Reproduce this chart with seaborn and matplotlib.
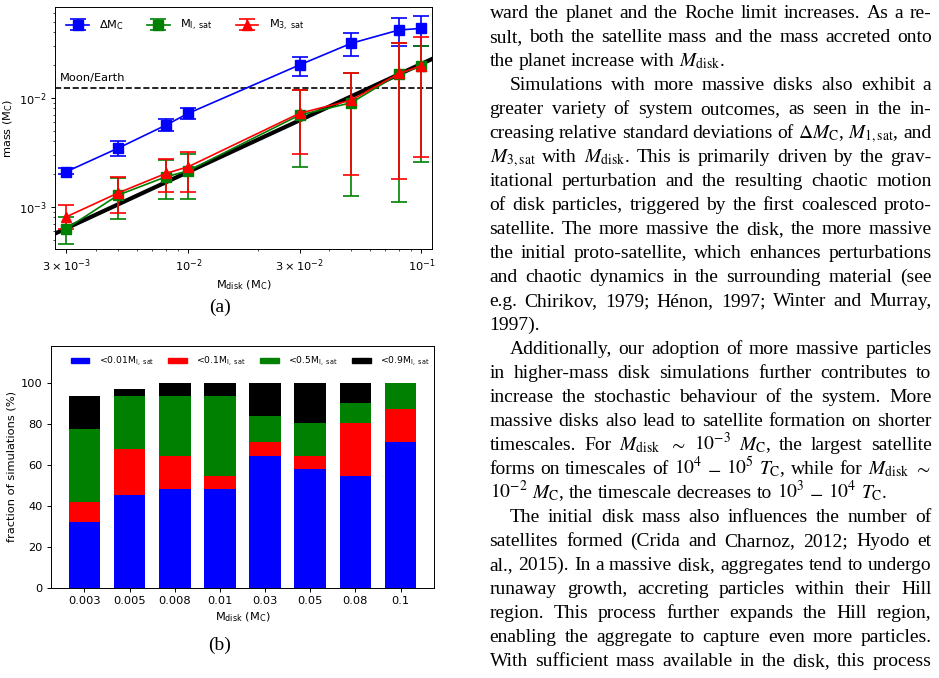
import matplotlib
matplotlib.use("Agg")
import matplotlib.pyplot as plt
from matplotlib.patches import Patch
import numpy as np
import seaborn as sns

# ---- data, panel (a): masses vs disk mass ----
mdisk = [0.003, 0.005, 0.008, 0.01, 0.03, 0.05, 0.08, 0.1]

dmc = [2.1e-3, 3.45e-3, 5.6e-3, 7.2e-3, 0.020, 0.0316, 0.0418, 0.0433]
dmc_lo = [1.98e-3, 2.95e-3, 4.95e-3, 6.35e-3, 0.0158, 0.0243, 0.0297, 0.0297]
dmc_hi = [2.25e-3, 4.0e-3, 6.38e-3, 8.0e-3, 0.0238, 0.039, 0.054, 0.056]

m1sat = [6.3e-4, 1.28e-3, 1.88e-3, 2.14e-3, 6.94e-3, 9.0e-3, 0.0165, 0.0195]
m1sat_lo = [4.55e-4, 7.66e-4, 1.17e-3, 1.19e-3, 2.33e-3, 1.25e-3, 1.11e-3, 2.59e-3]
m1sat_hi = [8.1e-4, 1.82e-3, 2.68e-3, 3.04e-3, 0.0118, 0.017, 0.032, 0.0297]

m3sat = [8.1e-4, 1.34e-3, 2.02e-3, 2.33e-3, 7.2e-3, 9.5e-3, 0.0167, 0.0197]
m3sat_lo = [6.2e-4, 8.8e-4, 1.37e-3, 1.37e-3, 3.04e-3, 1.95e-3, 1.78e-3, 2.88e-3]
m3sat_hi = [1.04e-3, 1.86e-3, 2.74e-3, 3.2e-3, 0.0117, 0.017, 0.0315, 0.0358]

# thick black reference line (end points) and Moon/Earth mass ratio
ref_x = [2.5e-3, 0.12]
ref_y = [5.3e-4, 0.0245]
moon_earth = 0.0123

# ---- data, panel (b): cumulative fraction of simulations (%) ----
disk_labels = ["0.003", "0.005", "0.008", "0.01", "0.03", "0.05", "0.08", "0.1"]
frac_001 = [32.3, 45.2, 48.4, 48.4, 64.5, 58.1, 54.8, 71.0]
frac_01 = [41.9, 67.7, 64.5, 54.8, 71.0, 64.5, 80.6, 87.1]
frac_05 = [77.4, 93.5, 93.5, 93.5, 83.9, 80.6, 90.3, 100.0]
frac_09 = [93.5, 96.8, 100.0, 100.0, 100.0, 100.0, 100.0, 100.0]

# figure was scaled down to ~0.82 in the page
plt.rcParams.update({
    "font.size": 8.2,
    "axes.linewidth": 0.7,
    "xtick.major.size": 2.9, "ytick.major.size": 2.9,
    "xtick.minor.size": 1.6, "ytick.minor.size": 1.6,
    "xtick.major.width": 0.7, "ytick.major.width": 0.7,
    "xtick.minor.width": 0.5, "ytick.minor.width": 0.5,
    "xtick.major.pad": 2.9, "ytick.major.pad": 2.9,
    "axes.labelpad": 3.2,
})

W, H = 939, 678
fig = plt.figure(figsize=(W / 100, H / 100), dpi=100)


def box(l, t, r, b):
    return [l / W, 1 - b / H, (r - l) / W, (b - t) / H]


# ================= panel (a) =================
ax1 = fig.add_axes(box(55, 7, 432, 249))
sns.lineplot(x=ref_x, y=ref_y, color="black", lw=3, ax=ax1, zorder=1)
ax1.axhline(moon_earth, color="black", ls="--", lw=1.2, zorder=1)

series = [
    (dmc, dmc_lo, dmc_hi, "blue", "s", r"$\Delta$M$_{\rm C}$"),
    (m1sat, m1sat_lo, m1sat_hi, "green", "s", r"M$_{\rm l,\ sat}$"),
    (m3sat, m3sat_lo, m3sat_hi, "red", "^", r"M$_{\rm 3,\ sat}$"),
]
for y, lo, hi, c, mk, lab in series:
    y = np.array(y)
    yerr = [y - np.array(lo), np.array(hi) - y]
    ax1.errorbar(mdisk, y, yerr=yerr, fmt="-" + mk, color=c, ms=6.5, lw=1.2,
                 elinewidth=1.2, capsize=6, capthick=1.2, label=lab, zorder=3)

ax1.set_xscale("log")
ax1.set_yscale("log")
ax1.set_xlim(2.68e-3, 0.111)
ax1.set_ylim(4.1e-4, 0.068)
ax1.set_xticks([3e-3, 1e-2, 3e-2, 1e-1])
ax1.set_xticklabels([r"$3\times10^{-3}$", r"$10^{-2}$", r"$3\times10^{-2}$", r"$10^{-1}$"])
ax1.text(0.013, 0.708, "Moon/Earth", transform=ax1.transAxes, va="center")
ax1.set_xlabel(r"M$_{\rm disk}$ (M$_{\rm C}$)")
ax1.set_ylabel(r"mass (M$_{\rm C}$)")
ax1.legend(loc="upper left", ncol=3, frameon=False, handlelength=2.0,
           handletextpad=0.9, columnspacing=2.0, borderaxespad=0.6)

# ================= panel (b) =================
ax2 = fig.add_axes(box(51, 346, 434, 588))
layers = [(frac_09, "black"), (frac_05, "green"), (frac_01, "red"), (frac_001, "blue")]
for vals, c in layers:
    sns.barplot(x=disk_labels, y=vals, color=c, saturation=1, width=0.7,
                errorbar=None, ax=ax2)
ax2.set_xlim(-0.74, 7.74)
ax2.set_ylim(0, 118)
ax2.set_yticks([0, 20, 40, 60, 80, 100])
ax2.set_xlabel(r"M$_{\rm disk}$ (M$_{\rm C}$)")
ax2.set_ylabel("fraction of simulations (%)")
handles = [Patch(color=c) for c in ["blue", "red", "green", "black"]]
labs = [r"<0.01M$_{\rm l,\ sat}$", r"<0.1M$_{\rm l,\ sat}$",
        r"<0.5M$_{\rm l,\ sat}$", r"<0.9M$_{\rm l,\ sat}$"]
ax2.legend(handles, labs, loc="upper center", bbox_to_anchor=(0.52, 1.0), ncol=4,
           frameon=False, fontsize=6.7, handlelength=2.0, handleheight=0.55,
           handletextpad=1.0, columnspacing=1.55)

# captions
serif = "Liberation Serif"
fig.text(220 / W, 1 - 307 / H, "(a)", ha="center", va="center", fontsize=14, family=serif)
fig.text(220 / W, 1 - 645 / H, "(b)", ha="center", va="center", fontsize=14, family=serif)

# ================= right column text =================
lines = [
    ("ward the planet and the Roche limit increases. As a re-", 0, True),
    ("sult, both the satellite mass and the mass accreted onto", 0, True),
    (r"the planet increase with $M_{\rm disk}$.", 0, False),
    ("Simulations with more massive disks also exhibit a", 1, True),
    ("greater variety of system outcomes, as seen in the in-", 0, True),
    (r"creasing relative standard deviations of $\Delta M_{\rm C}$, $M_{\rm 1,sat}$, and", 0, True),
    (r"$M_{\rm 3,sat}$ with $M_{\rm disk}$. This is primarily driven by the grav-", 0, True),
    ("itational perturbation and the resulting chaotic motion", 0, True),
    ("of disk particles, triggered by the first coalesced proto-", 0, True),
    ("satellite. The more massive the disk, the more massive", 0, True),
    ("the initial proto-satellite, which enhances perturbations", 0, True),
    ("and chaotic dynamics in the surrounding material (see", 0, True),
    ("e.g. Chirikov, 1979; Hénon, 1997; Winter and Murray,", 0, True),
    ("1997).", 0, False),
    ("Additionally, our adoption of more massive particles", 1, True),
    ("in higher-mass disk simulations further contributes to", 0, True),
    ("increase the stochastic behaviour of the system. More", 0, True),
    ("massive disks also lead to satellite formation on shorter", 0, True),
    (r"timescales. For $M_{\rm disk}$ $\sim$ $10^{-3}$ $M_{\rm C}$, the largest satellite", 0, True),
    (r"forms on timescales of $10^4$ $-$ $10^5$ $T_{\rm C}$, while for $M_{\rm disk}$ $\sim$", 0, True),
    (r"$10^{-2}$ $M_{\rm C}$, the timescale decreases to $10^3$ $-$ $10^4$ $T_{\rm C}$.", 0, False),
    ("The initial disk mass also influences the number of", 1, True),
    ("satellites formed (Crida and Charnoz, 2012; Hyodo et", 0, True),
    ("al., 2015). In a massive disk, aggregates tend to undergo", 0, True),
    ("runaway growth, accreting particles within their Hill", 0, True),
    ("region. This process further expands the Hill region,", 0, True),
    ("enabling the aggregate to capture even more particles.", 0, True),
    ("With sufficient mass available in the disk, this process", 0, True),
]


def split_words(s):
    # split on spaces, but keep $...$ math pieces whole
    words, cur, inmath = [], "", False
    for ch in s:
        if ch == "$":
            inmath = not inmath
        if ch == " " and not inmath:
            if cur:
                words.append(cur)
            cur = ""
        else:
            cur += ch
    if cur:
        words.append(cur)
    return words


x_left, x_right, indent = 489.5, 931.5, 20
base0, step = 18.3, 24.0
fs = 14
renderer = fig.canvas.get_renderer()
space = 0.25 * fs * 100 / 72

for i, (line, ind, justify) in enumerate(lines):
    yb = base0 + step * i
    words = split_words(line)
    texts = [fig.text(0, 1 - yb / H, w, fontsize=fs, family=serif,
                      math_fontfamily="stix", va="baseline") for w in words]
    widths = [t.get_window_extent(renderer).width for t in texts]
    x0 = x_left + indent * ind
    if justify and len(words) > 1:
        gap = (x_right - x0 - sum(widths)) / (len(words) - 1)
    else:
        gap = space
    x = x0
    for t, w in zip(texts, widths):
        t.set_x(x / W)
        x += w + gap

fig.savefig("out.png", dpi=100)
